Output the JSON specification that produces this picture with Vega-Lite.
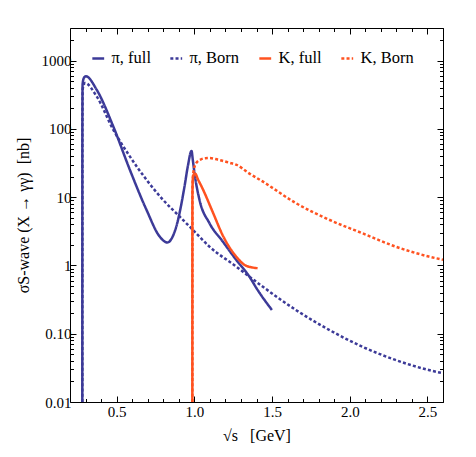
{
  "$schema": "https://vega.github.io/schema/vega-lite/v6.json",
  "autosize": "none",
  "width": 373,
  "height": 374,
  "padding": {"left": 70, "top": 28, "right": 33, "bottom": 55},
  "background": "white",
  "config": {
    "font": "Liberation Serif",
    "view": {"stroke": null},
    "axis": {
      "labelFont": "Liberation Serif", "labelFontSize": 15, "labelColor": "black",
      "titleFont": "Liberation Serif", "titleFontSize": 16, "titleFontWeight": "normal", "titleColor": "black",
      "domainColor": "black", "domainWidth": 1, "tickColor": "black", "tickWidth": 1, "grid": false,
      "labelOverlap": false, "labelFlush": false
    },
    "legend": {"labelFont": "Liberation Serif", "labelFontSize": 16.5, "labelColor": "black"}
  },
  "data": {"values": [
    {"s": 0.2792, "sigma": 0.01, "series": "π, full"},
    {"s": 0.2796, "sigma": 100, "series": "π, full"},
    {"s": 0.2810, "sigma": 450, "series": "π, full"},
    {"s": 0.2900, "sigma": 560, "series": "π, full"},
    {"s": 0.3026, "sigma": 589, "series": "π, full"},
    {"s": 0.371, "sigma": 376, "series": "π, full"},
    {"s": 0.478, "sigma": 109, "series": "π, full"},
    {"s": 0.585, "sigma": 25.2, "series": "π, full"},
    {"s": 0.692, "sigma": 6.53, "series": "π, full"},
    {"s": 0.777, "sigma": 2.65, "series": "π, full"},
    {"s": 0.826, "sigma": 2.17, "series": "π, full"},
    {"s": 0.884, "sigma": 3.72, "series": "π, full"},
    {"s": 0.937, "sigma": 14.4, "series": "π, full"},
    {"s": 0.958, "sigma": 28.2, "series": "π, full"},
    {"s": 0.982, "sigma": 47.5, "series": "π, full"},
    {"s": 0.990, "sigma": 35.3, "series": "π, full"},
    {"s": 1.001, "sigma": 22.5, "series": "π, full"},
    {"s": 1.033, "sigma": 9.16, "series": "π, full"},
    {"s": 1.097, "sigma": 4.17, "series": "π, full"},
    {"s": 1.183, "sigma": 2.24, "series": "π, full"},
    {"s": 1.269, "sigma": 1.21, "series": "π, full"},
    {"s": 1.354, "sigma": 0.687, "series": "π, full"},
    {"s": 1.407, "sigma": 0.438, "series": "π, full"},
    {"s": 1.499, "sigma": 0.223, "series": "π, full"},

    {"s": 0.2792, "sigma": 0.01, "series": "π, Born"},
    {"s": 0.2797, "sigma": 100, "series": "π, Born"},
    {"s": 0.2815, "sigma": 380, "series": "π, Born"},
    {"s": 0.296, "sigma": 471, "series": "π, Born"},
    {"s": 0.371, "sigma": 300, "series": "π, Born"},
    {"s": 0.478, "sigma": 97.3, "series": "π, Born"},
    {"s": 0.585, "sigma": 39.5, "series": "π, Born"},
    {"s": 0.692, "sigma": 18.0, "series": "π, Born"},
    {"s": 0.798, "sigma": 9.16, "series": "π, Born"},
    {"s": 0.905, "sigma": 5.21, "series": "π, Born"},
    {"s": 0.990, "sigma": 3.33, "series": "π, Born"},
    {"s": 1.097, "sigma": 1.89, "series": "π, Born"},
    {"s": 1.269, "sigma": 0.964, "series": "π, Born"},
    {"s": 1.439, "sigma": 0.491, "series": "π, Born"},
    {"s": 1.653, "sigma": 0.223, "series": "π, Born"},
    {"s": 1.867, "sigma": 0.114, "series": "π, Born"},
    {"s": 2.080, "sigma": 0.0647, "series": "π, Born"},
    {"s": 2.294, "sigma": 0.0413, "series": "π, Born"},
    {"s": 2.508, "sigma": 0.0294, "series": "π, Born"},
    {"s": 2.600, "sigma": 0.0264, "series": "π, Born"},

    {"s": 0.9872, "sigma": 0.01, "series": "K, full"},
    {"s": 0.9876, "sigma": 10, "series": "K, full"},
    {"s": 0.990, "sigma": 18, "series": "K, full"},
    {"s": 0.996, "sigma": 21.5, "series": "K, full"},
    {"s": 1.006, "sigma": 22, "series": "K, full"},
    {"s": 1.022, "sigma": 18.5, "series": "K, full"},
    {"s": 1.054, "sigma": 13.2, "series": "K, full"},
    {"s": 1.119, "sigma": 6.0, "series": "K, full"},
    {"s": 1.183, "sigma": 2.75, "series": "K, full"},
    {"s": 1.269, "sigma": 1.35, "series": "K, full"},
    {"s": 1.333, "sigma": 0.99, "series": "K, full"},
    {"s": 1.407, "sigma": 0.912, "series": "K, full"},

    {"s": 0.9872, "sigma": 0.01, "series": "K, Born"},
    {"s": 0.9877, "sigma": 12, "series": "K, Born"},
    {"s": 0.991, "sigma": 20, "series": "K, Born"},
    {"s": 0.998, "sigma": 26, "series": "K, Born"},
    {"s": 1.012, "sigma": 31.5, "series": "K, Born"},
    {"s": 1.04, "sigma": 35.5, "series": "K, Born"},
    {"s": 1.07, "sigma": 37.2, "series": "K, Born"},
    {"s": 1.097, "sigma": 37.4, "series": "K, Born"},
    {"s": 1.15, "sigma": 35.5, "series": "K, Born"},
    {"s": 1.226, "sigma": 31.9, "series": "K, Born"},
    {"s": 1.269, "sigma": 29.9, "series": "K, Born"},
    {"s": 1.35, "sigma": 22.5, "series": "K, Born"},
    {"s": 1.439, "sigma": 17.0, "series": "K, Born"},
    {"s": 1.653, "sigma": 8.19, "series": "K, Born"},
    {"s": 1.867, "sigma": 4.67, "series": "K, Born"},
    {"s": 2.080, "sigma": 2.97, "series": "K, Born"},
    {"s": 2.294, "sigma": 1.89, "series": "K, Born"},
    {"s": 2.508, "sigma": 1.35, "series": "K, Born"},
    {"s": 2.600, "sigma": 1.21, "series": "K, Born"}
  ]},
  "resolve": {"axis": {"x": "independent", "y": "independent"}},
  "layer": [
    {
      "mark": {"type": "line", "strokeWidth": 2.5, "clip": true, "interpolate": "monotone"},
      "encoding": {
        "x": {"field": "s", "type": "quantitative",
          "scale": {"domain": [0.2, 2.6], "nice": false, "zero": false},
          "axis": {
            "title": "√s\u00a0\u00a0\u00a0[GeV]",
            "values": [0.3,0.4,0.5,0.6,0.7,0.8,0.9,1.0,1.1,1.2,1.3,1.4,1.5,1.6,1.7,1.8,1.9,2.0,2.1,2.2,2.3,2.4,2.5,2.6],
            "labelExpr": "abs(datum.value*2 - round(datum.value*2)) < 1e-6 ? format(datum.value, '.1f') : ''",
            "tickSize": {"condition": {"test": "abs(datum.value*2 - round(datum.value*2)) < 1e-6", "value": -6}, "value": -3.5},
            "labelPadding": 8,
            "titlePadding": 6
          }},
        "y": {"field": "sigma", "type": "quantitative",
          "scale": {"type": "log", "domain": [0.01, 3000], "nice": false},
          "axis": {
            "title": "σS‑wave (X → γγ)\u00a0\u00a0[nb]",
            "values": [0.01,0.02,0.03,0.04,0.05,0.06,0.07,0.08,0.09,0.1,0.2,0.3,0.4,0.5,0.6,0.7,0.8,0.9,1,2,3,4,5,6,7,8,9,10,20,30,40,50,60,70,80,90,100,200,300,400,500,600,700,800,900,1000,2000,3000],
            "labelExpr": "datum.value==0.01?'0.01':datum.value==0.1?'0.10':datum.value==1?'1':datum.value==10?'10':datum.value==100?'100':datum.value==1000?'1000':''",
            "tickSize": {"condition": {"test": "indexof([0.01,0.1,1,10,100,1000], datum.value) >= 0", "value": -6}, "value": -3.5},
            "labelPadding": 5,
            "titlePadding": 10
          }},
        "color": {"field": "series", "type": "nominal",
          "scale": {"domain": ["π, full", "π, Born", "K, full", "K, Born"], "range": ["#3c3a98", "#3c3a98", "#ff5220", "#ff5220"]},
          "legend": {"title": null, "orient": "none", "legendX": 20, "legendY": 22, "direction": "horizontal",
            "symbolType": "stroke", "symbolStrokeWidth": 2.5, "symbolSize": 140, "columnPadding": 14, "labelOffset": 5}},
        "strokeDash": {"field": "series", "type": "nominal",
          "scale": {"domain": ["π, full", "π, Born", "K, full", "K, Born"], "range": [[1,0],[3,2.2],[1,0],[3,2.2]]},
          "legend": {"title": null, "orient": "none", "legendX": 20, "legendY": 22, "direction": "horizontal",
            "symbolType": "stroke", "symbolStrokeWidth": 2.5, "symbolSize": 140, "columnPadding": 14, "labelOffset": 5}}
      }
    },
    {
      "mark": {"type": "line", "opacity": 0},
      "encoding": {
        "x": {"field": "s", "type": "quantitative",
          "axis": {"orient": "top", "title": null, "labels": false,
            "values": [0.3,0.4,0.5,0.6,0.7,0.8,0.9,1.0,1.1,1.2,1.3,1.4,1.5,1.6,1.7,1.8,1.9,2.0,2.1,2.2,2.3,2.4,2.5,2.6],
            "tickSize": {"condition": {"test": "abs(datum.value*2 - round(datum.value*2)) < 1e-6", "value": -6}, "value": -3.5}}},
        "y": {"field": "sigma", "type": "quantitative",
          "axis": {"orient": "right", "title": null, "labels": false,
            "values": [0.01,0.02,0.03,0.04,0.05,0.06,0.07,0.08,0.09,0.1,0.2,0.3,0.4,0.5,0.6,0.7,0.8,0.9,1,2,3,4,5,6,7,8,9,10,20,30,40,50,60,70,80,90,100,200,300,400,500,600,700,800,900,1000,2000,3000],
            "tickSize": {"condition": {"test": "indexof([0.01,0.1,1,10,100,1000], datum.value) >= 0", "value": -6}, "value": -3.5}}},
        "detail": {"field": "series"}
      }
    }
  ]
}
